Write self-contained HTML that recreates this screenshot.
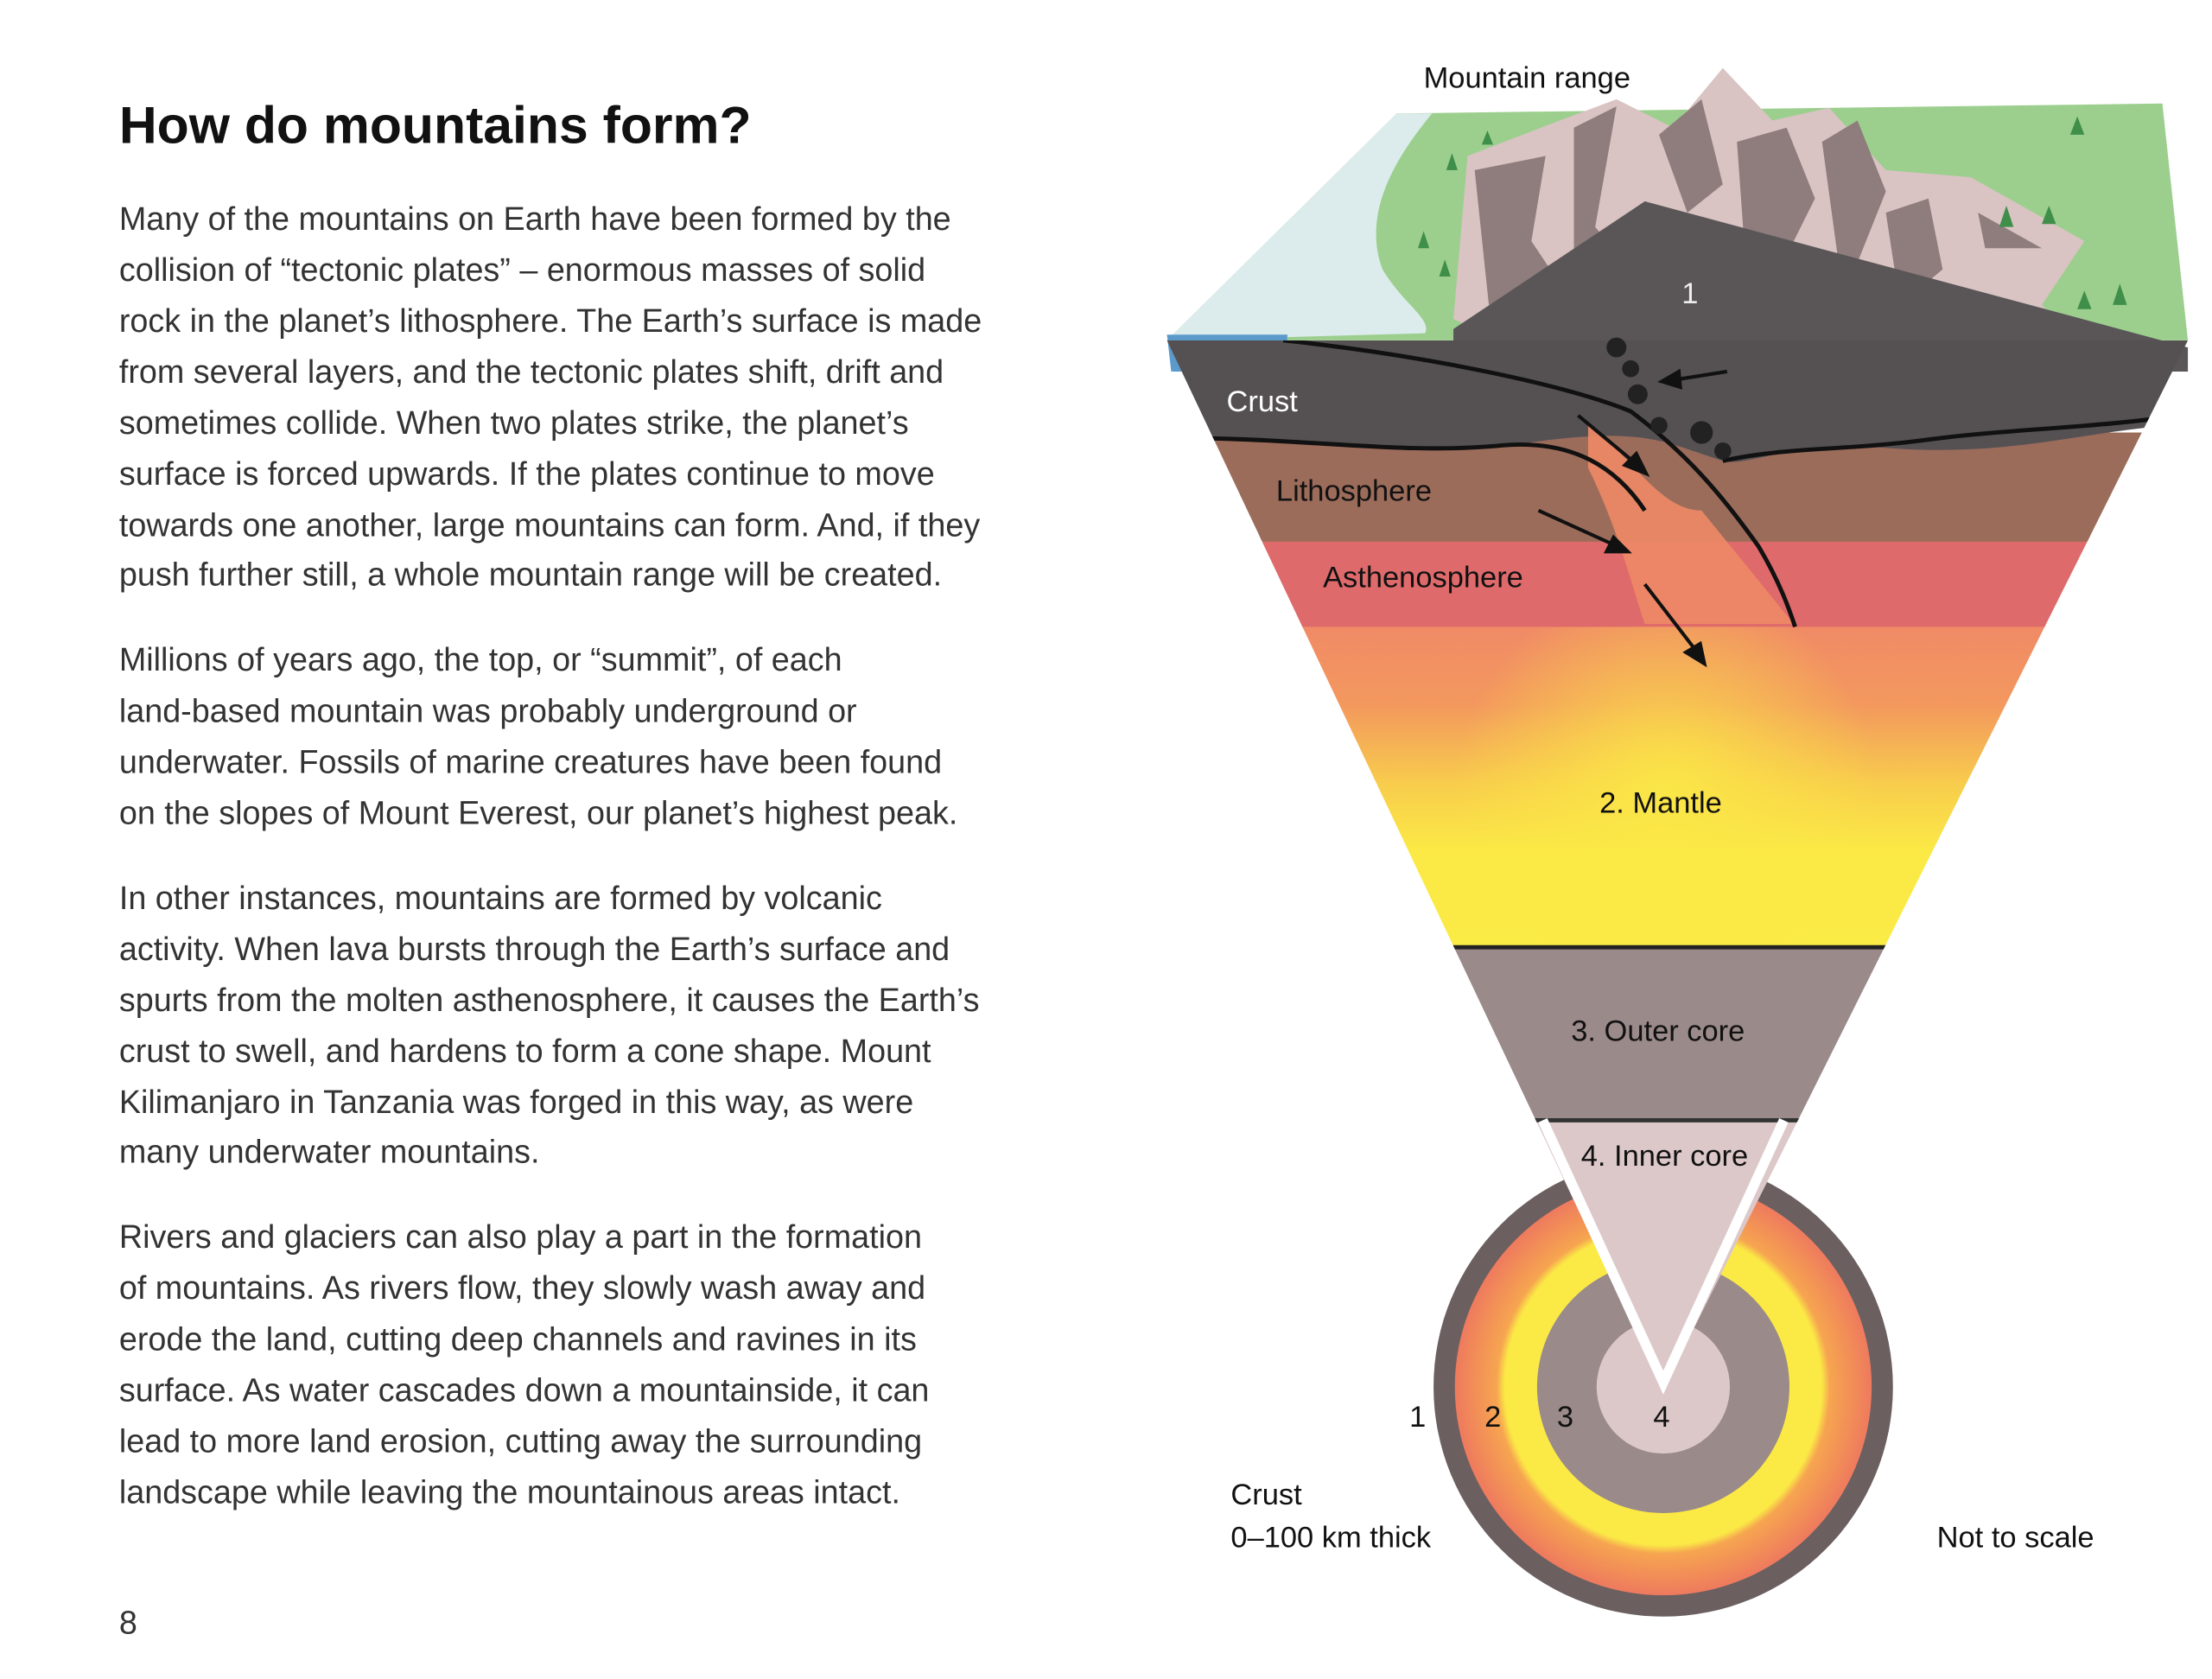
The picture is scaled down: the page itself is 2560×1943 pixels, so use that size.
<!DOCTYPE html>
<html><head><meta charset="utf-8"><style>
html,body{margin:0;padding:0;background:#fff;}
svg{display:block;}
text{font-family:"Liberation Sans",sans-serif;}
</style></head><body>
<svg width="2560" height="1943" viewBox="0 0 1560 1184" xmlns="http://www.w3.org/2000/svg">
<defs>
<linearGradient id="mantle" x1="0" y1="0" x2="0" y2="1">
<stop offset="0" stop-color="#f08a66"/>
<stop offset="0.25" stop-color="#f3985e"/>
<stop offset="0.5" stop-color="#f8cd4c"/>
<stop offset="0.7" stop-color="#fbe946"/>
<stop offset="1" stop-color="#fbeb45"/>
</linearGradient>
<radialGradient id="glow" cx="1175" cy="560" r="150" gradientUnits="userSpaceOnUse">
<stop offset="0" stop-color="#fbe946" stop-opacity="0.9"/>
<stop offset="1" stop-color="#fbe946" stop-opacity="0"/>
</radialGradient>
<radialGradient id="ring" cx="0.5" cy="0.5" r="0.5">
<stop offset="0.76" stop-color="#fbe946"/>
<stop offset="0.8" stop-color="#f6a550"/>
<stop offset="1" stop-color="#ee7a5e"/>
</radialGradient>
<clipPath id="tri"><polygon points="823,240 1543,240 1173,980"/></clipPath>
</defs>
<rect width="1560" height="1184" fill="#fff"/>
<text x="84" y="101" font-size="37" font-weight="bold" fill="#111">How do mountains form?</text>
<g font-size="23" fill="#333">
<text x="84" y="162">Many of the mountains on Earth have been formed by the</text>
<text x="84" y="198">collision of “tectonic plates” – enormous masses of solid</text>
<text x="84" y="234">rock in the planet’s lithosphere. The Earth’s surface is made</text>
<text x="84" y="270">from several layers, and the tectonic plates shift, drift and</text>
<text x="84" y="306">sometimes collide. When two plates strike, the planet’s</text>
<text x="84" y="342">surface is forced upwards. If the plates continue to move</text>
<text x="84" y="378">towards one another, large mountains can form. And, if they</text>
<text x="84" y="413">push further still, a whole mountain range will be created.</text>
<text x="84" y="473">Millions of years ago, the top, or “summit”, of each</text>
<text x="84" y="509">land-based mountain was probably underground or</text>
<text x="84" y="545">underwater. Fossils of marine creatures have been found</text>
<text x="84" y="581">on the slopes of Mount Everest, our planet’s highest peak.</text>
<text x="84" y="641">In other instances, mountains are formed by volcanic</text>
<text x="84" y="677">activity. When lava bursts through the Earth’s surface and</text>
<text x="84" y="713">spurts from the molten asthenosphere, it causes the Earth’s</text>
<text x="84" y="749">crust to swell, and hardens to form a cone shape. Mount</text>
<text x="84" y="785">Kilimanjaro in Tanzania was forged in this way, as were</text>
<text x="84" y="820">many underwater mountains.</text>
<text x="84" y="880">Rivers and glaciers can also play a part in the formation</text>
<text x="84" y="916">of mountains. As rivers flow, they slowly wash away and</text>
<text x="84" y="952">erode the land, cutting deep channels and ravines in its</text>
<text x="84" y="988">surface. As water cascades down a mountainside, it can</text>
<text x="84" y="1024">lead to more land erosion, cutting away the surrounding</text>
<text x="84" y="1060">landscape while leaving the mountainous areas intact.</text>
<text x="84" y="1152">8</text>
</g>

<circle cx="1173" cy="978" r="162" fill="#6b5f60"/>
<circle cx="1173" cy="978" r="147" fill="url(#ring)"/>
<circle cx="1173" cy="978" r="89" fill="#9a8a89"/>
<circle cx="1173" cy="978" r="47" fill="#dcc8c8"/>

<polygon points="823,240 985,80 1525,73 1543,240" fill="#9ccf8e"/>
<path d="M823,240 L985,80 L1010,80 C985,110 960,150 975,190 C990,215 1010,225 1005,235 Z" fill="#dcecec"/>
<polygon points="823,236 908,236 906,262 826,262" fill="#5b9acb"/>
<polygon points="1025,225 1035,110 1100,85 1140,70 1180,90 1215,48 1250,85 1290,76 1330,120 1390,125 1470,170 1440,215 1470,245 1060,240" fill="#d9c3c3"/>
<g fill="#8e7d7c">
<polygon points="1040,120 1090,110 1080,170 1100,200 1050,215"/>
<polygon points="1110,90 1140,75 1125,160 1150,190 1110,200"/>
<polygon points="1170,95 1200,70 1215,130 1190,150"/>
<polygon points="1225,100 1260,90 1280,140 1250,200 1230,170"/>
<polygon points="1285,100 1310,85 1330,135 1300,210"/>
<polygon points="1330,150 1360,140 1370,190 1340,215"/>
<polygon points="1395,150 1440,175 1400,175"/>
</g>
<g fill="#3f8e4a">
<polygon points="1460,95 1465,82 1470,95"/><polygon points="1410,160 1415,145 1420,160"/><polygon points="1440,158 1445,145 1450,158"/>
<polygon points="1490,215 1495,200 1500,215"/><polygon points="1465,218 1470,205 1475,218"/>
<polygon points="1000,175 1004,163 1008,175"/><polygon points="1015,195 1019,183 1023,195"/><polygon points="1020,120 1024,108 1028,120"/><polygon points="1045,102 1049,92 1053,102"/>
</g>
<path d="M1025,232 L1160,142 L1543,245 L1543,262 L1025,262 Z" fill="#5a5658"/>

<g clip-path="url(#tri)">
<rect x="800" y="440" width="760" height="228" fill="url(#mantle)"/>
<rect x="800" y="380" width="760" height="400" fill="url(#glow)"/>
<rect x="800" y="378" width="760" height="64" fill="#df6a6b"/>
<rect x="800" y="305" width="760" height="77" fill="#9c6c5b"/>
<path d="M800,382 L1110,382 C1130,390 1135,420 1150,442 L800,442 Z" fill="#df6a6b"/>
<path d="M800,240 L1543,240 L1543,300 C1480,300 1420,325 1320,315 C1270,310 1230,330 1215,325 L1200,320 C1170,310 1150,300 1060,315 C980,320 900,305 800,310 Z" fill="#555153"/>
<path d="M1120,300 C1150,320 1170,360 1200,360 L1265,440 L1160,440 C1150,410 1140,370 1120,330 Z" fill="#ee8a66" opacity="0.9"/>
<path d="M800,310 C900,305 980,322 1060,314 C1110,310 1140,330 1160,360" fill="none" stroke="#111" stroke-width="3"/>
<path d="M1215,325 C1260,315 1300,318 1360,310 C1420,302 1480,302 1543,292" fill="none" stroke="#111" stroke-width="3"/>
<path d="M905,240 C1000,250 1100,270 1150,290 C1190,320 1215,350 1240,385 C1255,410 1262,430 1266,442" fill="none" stroke="#111" stroke-width="3"/>
<rect x="800" y="667" width="760" height="124" fill="#9a8a89"/>
<rect x="800" y="790" width="760" height="200" fill="#dcc8c8"/>
<line x1="800" y1="668" x2="1560" y2="668" stroke="#222" stroke-width="3"/>
<line x1="800" y1="790" x2="1560" y2="790" stroke="#333" stroke-width="3"/>
</g>
<path d="M1088,790 L1173,975 L1258,790" fill="none" stroke="#fff" stroke-width="7"/>
<g fill="#222">
<circle cx="1140" cy="245" r="7"/><circle cx="1150" cy="260" r="6"/><circle cx="1155" cy="278" r="7"/>
<circle cx="1170" cy="300" r="6"/><circle cx="1200" cy="305" r="8"/><circle cx="1215" cy="318" r="6"/>
</g>

<g stroke="#111" stroke-width="2.5" fill="#111">
<line x1="1113" y1="293" x2="1155" y2="328"/><polygon points="1161,334 1146,328 1154,320"/>
<line x1="1085" y1="360" x2="1140" y2="385"/><polygon points="1148,389 1133,389 1138,379"/>
<line x1="1160" y1="412" x2="1197" y2="460"/><polygon points="1202,468 1189,460 1199,454"/>
<line x1="1218" y1="262" x2="1180" y2="268"/><polygon points="1172,269 1184,262 1185,273"/>
</g>

<g font-size="21" fill="#111">
<text x="1004" y="62">Mountain range</text>
<text x="1186" y="214" fill="#eee">1</text>
<text x="865" y="290" fill="#fff">Crust</text>
<text x="900" y="353">Lithosphere</text>
<text x="933" y="414">Asthenosphere</text>
<text x="1128" y="573">2. Mantle</text>
<text x="1108" y="734">3. Outer core</text>
<text x="1115" y="822">4. Inner core</text>
<text x="994" y="1006">1</text>
<text x="1047" y="1006">2</text>
<text x="1098" y="1006">3</text>
<text x="1166" y="1006">4</text>
<text x="868" y="1061">Crust</text>
<text x="868" y="1091">0–100 km thick</text>
<text x="1366" y="1091">Not to scale</text>
</g>
</svg>
</body></html>
